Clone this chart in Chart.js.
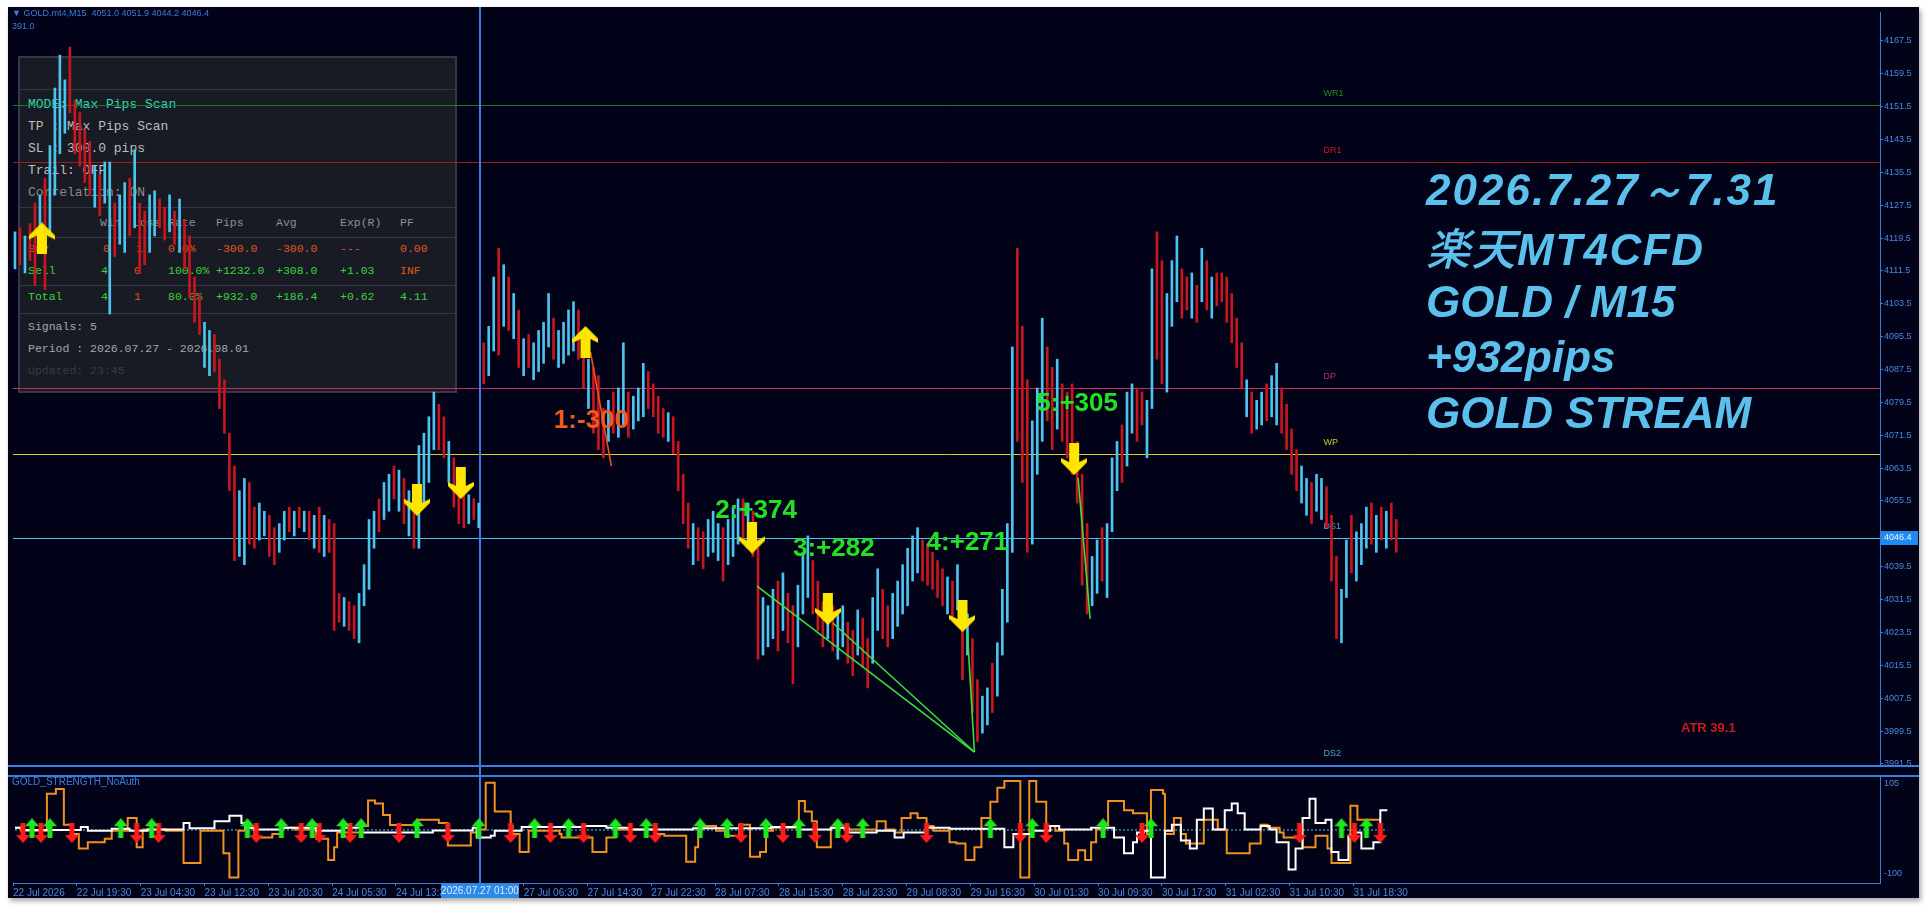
<!DOCTYPE html>
<html>
<head>
<meta charset="utf-8">
<title>GOLD M15</title>
<script src="https://cdn.jsdelivr.net/npm/chart.js@4.4.1/dist/chart.umd.min.js"></script>
<style>
  html, body { margin: 0; padding: 0; background: #ffffff; }
  body { width: 1927px; height: 910px; position: relative; overflow: hidden; }
  #frame { position: absolute; left: 8px; top: 7px; width: 1911px; height: 891px; background: #020318;
           box-shadow: 2px 3px 5px rgba(0,0,0,0.35); overflow: hidden; }
  #main { position: absolute; left: 0; top: 0; z-index: 2; }
  #sub { position: absolute; left: 0; top: 764px; z-index: 2; }
  #panel { position: absolute; left: 10px; top: 49px; width: 435px; height: 333px; background: #191b24;
           border: 2px solid #343844; z-index: 1; }
  #panel .t { position: absolute; font: 13px "Liberation Mono", "DejaVu Sans Mono", monospace; line-height: 16px; white-space: pre; }
  #panel .s { font-size: 11.5px; }
  #panel .sep { position: absolute; left: 0; width: 435px; height: 1px; background: #343844; }
  .g { color: #3cd23c; } .o { color: #e0561c; } .b { font-weight: bold; }
  .hdr { position: absolute; left: 4px; color: #3b7ddc; font: 9px "Liberation Sans", Arial, sans-serif; line-height: 12px; z-index: 3; white-space: pre; }
  .title { position: absolute; left: 1418px; color: #5bc0eb; font: italic bold 44px "Liberation Sans", Arial, sans-serif;
           line-height: 44px; white-space: pre; z-index: 3; }
  .title .jp { font-family: "Noto Sans CJK JP", sans-serif; font-weight: 500; }
  #atr { position: absolute; left: 1673px; top: 713px; color: #cc1a1a; font: bold 13px "Liberation Sans", Arial, sans-serif; z-index: 3; }
</style>
</head>
<body>
<div id="frame">
  <div class="hdr" style="top:0px">▼ GOLD.mt4,M15  4051.0 4051.9 4044.2 4046.4</div>
  <div class="hdr" style="top:13px">391.0</div>

  <div id="panel">
    <div class="sep" style="top:31px"></div>
    <div class="t" style="left:8px;top:39px;color:#2fd6bd">MODE: Max Pips Scan</div>
    <div class="t" style="left:8px;top:61px;color:#bdbdbd">TP : Max Pips Scan</div>
    <div class="t" style="left:8px;top:83px;color:#bdbdbd">SL : 300.0 pips</div>
    <div class="t" style="left:8px;top:105px;color:#bdbdbd">Trail: OFF</div>
    <div class="t" style="left:8px;top:127px;color:#8a8a8a">Correlation: ON</div>
    <div class="sep" style="top:149px"></div>
    <div class="t s" style="left:80px;top:157px;color:#8e8e8e">Win</div>
    <div class="t s" style="left:113px;top:157px;color:#8e8e8e">Loss</div>
    <div class="t s" style="left:148px;top:157px;color:#8e8e8e">Rate</div>
    <div class="t s" style="left:196px;top:157px;color:#8e8e8e">Pips</div>
    <div class="t s" style="left:256px;top:157px;color:#8e8e8e">Avg</div>
    <div class="t s" style="left:320px;top:157px;color:#8e8e8e">Exp(R)</div>
    <div class="t s" style="left:380px;top:157px;color:#8e8e8e">PF</div>
    <div class="sep" style="top:179px"></div>
    <div class="t s o b" style="left:8px;top:183px">Buy</div>
    <div class="t s o" style="left:83px;top:183px">0</div>
    <div class="t s o" style="left:116px;top:183px">1</div>
    <div class="t s o" style="left:148px;top:183px">0.0%</div>
    <div class="t s o" style="left:196px;top:183px">-300.0</div>
    <div class="t s o" style="left:256px;top:183px">-300.0</div>
    <div class="t s o" style="left:320px;top:183px">---</div>
    <div class="t s o" style="left:380px;top:183px">0.00</div>
    <div class="t s g b" style="left:8px;top:205px">Sell</div>
    <div class="t s g" style="left:81px;top:205px">4</div>
    <div class="t s o" style="left:114px;top:205px">0</div>
    <div class="t s g" style="left:148px;top:205px">100.0%</div>
    <div class="t s g" style="left:196px;top:205px">+1232.0</div>
    <div class="t s g" style="left:256px;top:205px">+308.0</div>
    <div class="t s g" style="left:320px;top:205px">+1.03</div>
    <div class="t s o" style="left:380px;top:205px">INF</div>
    <div class="sep" style="top:227px"></div>
    <div class="t s g b" style="left:8px;top:231px">Total</div>
    <div class="t s g" style="left:81px;top:231px">4</div>
    <div class="t s o" style="left:114px;top:231px">1</div>
    <div class="t s g" style="left:148px;top:231px">80.0%</div>
    <div class="t s g" style="left:196px;top:231px">+932.0</div>
    <div class="t s g" style="left:256px;top:231px">+186.4</div>
    <div class="t s g" style="left:320px;top:231px">+0.62</div>
    <div class="t s g" style="left:380px;top:231px">4.11</div>
    <div class="sep" style="top:255px"></div>
    <div class="t s" style="left:8px;top:261px;color:#a6a6a6">Signals: 5</div>
    <div class="t s" style="left:8px;top:283px;color:#a6a6a6">Period : 2026.07.27 - 2026.08.01</div>
    <div class="t s" style="left:8px;top:305px;color:#363a44">Updated: 23:45</div>
  </div>

  <canvas id="main" width="1911" height="764"></canvas>
  <canvas id="sub" width="1911" height="127"></canvas>

  <div class="hdr" style="top:769px;font-size:10px">GOLD_STRENGTH_NoAuth</div>

  <div class="title" style="top:161px;letter-spacing:2px">2026.7.27～7.31</div>
  <div class="title" style="top:217px;letter-spacing:1.5px"><span class="jp">楽天</span>MT4CFD</div>
  <div class="title" style="top:273px">GOLD / M15</div>
  <div class="title" style="top:328px">+932pips</div>
  <div class="title" style="top:384px">GOLD STREAM</div>
  <div id="atr">ATR 39.1</div>
</div>

<script>
// ---- price bars (one slot = one drawn bar) ----
const barLow = [
  4112,4113,4111,4114,4108,4116,4107,4120,4130,4140,
  4145,4150,4140,4137,4133,4130,4127,4125,4128,4101,
  4115,4118,4116,4120,4122,4111,4113,4116,4120,4122,
  4119,4121,4118,4116,4112,4105,4099,4096,4088,4086,
  4087,4078,4072,4058,4041,4042,4040,4045,4044,4046,
  4047,4042,4040,4043,4046,4048,4047,4049,4048,4046,
  4044,4043,4042,4043,4024,4026,4025,4024,4022,4021,
  4030,4034,4044,4048,4051,4053,4056,4053,4050,4047,
  4044,4044,4055,4060,4068,4068,4066,4060,4054,4050,
  4049,4050,4051,4049,4084,4086,4092,4091,4098,4097,
  4095,4088,4086,4088,4085,4087,4089,4093,4090,4088,
  4089,4091,4092,4090,4083,4078,4072,4068,4066,4070,
  4072,4071,4074,4071,4073,4075,4076,4078,4076,4072,
  4071,4070,4067,4058,4050,4044,4040,4041,4039,4042,
  4043,4041,4036,4040,4042,4045,4046,4044,4042,4017,
  4018,4020,4022,4019,4024,4021,4011,4020,4028,4032,
  4028,4024,4020,4022,4019,4017,4020,4016,4013,4018,
  4015,4010,4016,4024,4022,4020,4022,4025,4028,4030,
  4036,4038,4036,4035,4034,4032,4030,4028,4027,4029,
  4012,4018,4004,3997,3999,4001,4004,4008,4018,4026,
  4043,4070,4060,4043,4045,4062,4070,4075,4068,4073,
  4070,4066,4062,4055,4035,4028,4030,4033,4036,4032,
  4048,4058,4060,4064,4072,4070,4074,4066,4078,4090,
  4084,4082,4098,4104,4100,4102,4100,4099,4104,4102,
  4100,4103,4104,4099,4094,4088,4083,4076,4072,4073,
  4074,4075,4076,4074,4072,4068,4062,4058,4055,4052,
  4050,4053,4051,4049,4036,4022,4021,4032,4038,4036,
  4040,4044,4045,4043,4046,4044,4046,4043
];
const barHigh = [
  4121,4122,4120,4123,4128,4130,4134,4142,4156,4164,
  4158,4166,4153,4150,4146,4143,4137,4135,4138,4138,
  4128,4130,4133,4134,4141,4128,4126,4130,4131,4129,
  4127,4130,4126,4129,4124,4120,4110,4106,4099,4097,
  4096,4090,4085,4072,4064,4058,4061,4060,4054,4055,
  4053,4052,4049,4050,4053,4054,4053,4054,4053,4053,
  4052,4054,4052,4051,4050,4033,4032,4031,4030,4033,
  4040,4051,4053,4056,4060,4062,4064,4063,4061,4058,
  4056,4069,4072,4076,4082,4079,4076,4070,4066,4060,
  4058,4057,4056,4055,4094,4098,4110,4117,4113,4110,
  4106,4102,4095,4096,4094,4097,4099,4106,4100,4097,
  4099,4102,4104,4102,4094,4090,4088,4086,4078,4080,
  4082,4083,4094,4082,4081,4083,4089,4087,4084,4081,
  4078,4077,4076,4070,4062,4055,4050,4049,4048,4051,
  4053,4050,4049,4051,4054,4056,4056,4055,4053,4044,
  4032,4030,4034,4036,4038,4033,4030,4035,4043,4047,
  4041,4036,4031,4033,4030,4028,4030,4026,4024,4029,
  4027,4022,4032,4039,4034,4030,4033,4036,4040,4044,
  4047,4049,4046,4045,4043,4041,4039,4037,4036,4040,
  4030,4028,4022,4012,4008,4010,4016,4021,4034,4050,
  4093,4117,4098,4085,4075,4083,4100,4093,4088,4090,
  4084,4082,4084,4070,4062,4050,4042,4046,4049,4050,
  4066,4070,4074,4082,4084,4083,4082,4080,4112,4121,
  4114,4106,4114,4120,4112,4110,4111,4108,4117,4114,
  4110,4111,4111,4110,4106,4100,4094,4085,4082,4080,
  4082,4084,4086,4089,4083,4079,4073,4068,4064,4061,
  4060,4062,4061,4059,4052,4042,4034,4046,4052,4048,
  4050,4054,4055,4052,4054,4053,4055,4051
];
const barUp = [
  1,0,1,0,0,1,0,1,1,1,  1,0,0,0,0,0,1,0,1,1,  0,1,1,0,1,0,0,1,1,0,  0,1,0,1,0,0,0,0,1,1,
  0,0,0,0,0,1,1,0,0,1,  1,0,0,1,1,0,1,0,1,0,  1,0,1,0,0,0,1,0,0,1,  1,1,1,0,1,1,0,1,0,1,
  0,1,1,1,1,0,0,1,0,0,  0,1,0,1,0,1,1,0,1,0,  1,0,1,0,1,1,1,1,0,1,  1,1,1,0,0,1,0,0,0,1,
  0,1,1,0,1,1,1,0,0,0,  0,1,0,0,0,0,1,0,0,1,  1,1,0,1,1,1,0,1,0,0,  1,1,1,0,1,0,0,1,1,1,
  0,0,0,1,0,1,1,0,0,1,  0,0,1,1,0,0,1,1,1,1,  1,1,0,0,0,0,0,1,0,1,  0,1,0,0,1,1,0,1,1,1,
  1,0,0,0,1,1,1,0,0,1,  0,0,0,0,0,0,1,1,0,1,  1,1,0,1,1,0,0,1,1,0,  0,1,1,1,0,0,1,0,1,0,
  1,0,0,0,0,0,0,1,0,1,  1,0,1,1,0,0,0,0,1,1,  0,1,1,0,0,0,1,1,0,1,  1,1,0,1,0,1,0,0
];
const lastPrice = 4046.4;

// ---- horizontal levels ----
const levelNames = ['WR1', 'DR1', 'DP', 'WP', 'DS1', 'DS2'];
const levelPrices = [4151.8, 4138.0, 4083.1, 4066.9, 4046.4, 3991.2];

// ---- signal arrows on the price chart ----
const buyArrowX = [5.4, 114.4];
const buyArrowY = [4119.4, 4094.2];
const sellArrowX = [80.6, 89.4, 147.8, 163, 190, 212.4];
const sellArrowY = [4055.8, 4059.9, 4046.6, 4029.2, 4027.5, 4065.7];

// ---- trades: entry -> exit, and result labels ----
const tradeFromX = [115.4, 148.8, 164, 191, 213.2];
const tradeFromY = [4091.8, 4034.8, 4025.8, 4023.4, 4061.1];
const tradeToX = [119.6, 192.4, 192.4, 192.4, 215.6];
const tradeToY = [4064.0, 3994.4, 3994.4, 3994.4, 4026.8];
const tradeLabels = ['1:-300', '2:+374', '3:+282', '4:+271', '5:+305'];
const tradeLabelX = [115.6, 148.6, 164.2, 191, 213];
const tradeLabelY = [4074.9, 4053.1, 4043.9, 4045.2, 4079.2];

// ---- axes ----
const priceTicks = [4167.5, 4159.5, 4151.5, 4143.5, 4135.5, 4127.5, 4119.5, 4111.5, 4103.5, 4095.5,
  4087.5, 4079.5, 4071.5, 4063.5, 4055.5, 4039.5, 4031.5, 4023.5, 4015.5, 4007.5, 3999.5, 3991.5];
const timeTickSlots = [-0.4, 12.4, 25.2, 38, 50.8, 63.6, 76.4, 89.2, 102, 114.8, 127.6,
  140.4, 153.2, 166, 178.8, 191.6, 204.4, 217.2, 230, 242.8, 255.6, 268.4];
const timeLabels = ['22 Jul 2026', '22 Jul 19:30', '23 Jul 04:30', '23 Jul 12:30', '23 Jul 20:30',
  '24 Jul 05:30', '24 Jul 13:30', '24 Jul 21:30', '27 Jul 06:30', '27 Jul 14:30', '27 Jul 22:30',
  '28 Jul 07:30', '28 Jul 15:30', '28 Jul 23:30', '29 Jul 08:30', '29 Jul 16:30', '30 Jul 01:30',
  '30 Jul 09:30', '30 Jul 17:30', '31 Jul 02:30', '31 Jul 10:30', '31 Jul 18:30'];
const weekStartSlot = 93.2;
const weekStartLabel = '2026.07.27 01:00';

// ---- GOLD_STRENGTH indicator: [slot, value] at each step change ----
const orangeSteps = [
  [0,5],[1.2,-2],[6.4,82],[8.2,93],[9.8,12],[11.4,-9],[12.8,-42],[14.6,-28],[18,-20],[19.4,-2],
  [22.6,27],[24.4,-39],[25.6,1],[30.2,-2],[33.8,-75],[37.2,-2],[41.8,-53],[43,-108],[44.8,-2],[46.2,5],
  [48,-17],[51.6,-9],[53.4,5],[56,1],[60.4,-20],[62.8,-68],[64,-39],[64.6,-6],[69.4,9],[70.8,67],
  [72.2,60],[73.8,34],[75.2,11],[80.6,23],[85,16],[86.8,-35],[91.4,-6],[92.6,1],[94.4,107],[96.2,42],
  [99.4,9],[99.8,-9],[101.2,-50],[103,-2],[109.2,-9],[109.6,-17],[115.8,-50],[118.6,-17],[120.4,1],[128.4,-9],
  [130.2,-13],[134.6,-72],[136.4,-39],[137,1],[137.8,9],[140.6,-2],[142.4,-13],[145.2,12],[147.4,-61],[149.4,-50],
  [150.6,-2],[152,5],[157.2,66],[158.4,42],[159.8,20],[160.8,-39],[163.6,5],[166.4,1],[172.8,20],[174.6,1],
  [176.4,-6],[177.8,27],[179.6,38],[181,27],[182.8,9],[184.2,-2],[187.4,-28],[188.8,-31],[190.6,-68],[192.4,-39],
  [193.8,27],[195.6,64],[197,96],[198.4,111],[201.6,-108],[203.4,111],[204.8,64],[206.8,9],[208.6,-2],[210.4,-31],
  [211.2,-68],[213.2,-46],[214.6,-68],[215.8,-28],[216.8,1],[218.6,12],[219.2,66],[222.4,45],[224.2,38],[227,-9],
  [227.8,91],[230.2,82],[230.6,-9],[232.4,27],[233.8,-9],[234.8,-31],[238.4,23],[241.2,1],[243,-53],[247.6,-31],
  [249.8,12],[251.2,5],[253.6,-6],[254.4,-17],[258.2,-39],[260.8,-13],[263.2,-42],[264,-75],[267.8,55],[269.2,23],
  [273.8,23]
];
const whiteSteps = [
  [0,5],[1.6,0],[13.2,7],[14.6,-2],[19.4,3],[23,-2],[26.6,1],[33.8,16],[35,4],[40,20],
  [43,32],[45.4,16],[46.2,5],[48,1],[53.4,5],[60.4,-2],[65.8,5],[69.4,-6],[83.8,-1],[91.8,5],
  [92.6,-17],[95.4,-13],[96.2,-2],[101.6,7],[114,9],[118.6,5],[123,1],[136,4],[151.6,7],[157.2,1],
  [163.6,5],[167.2,-6],[172.8,-2],[176.4,-17],[178.2,-6],[182.8,5],[187.4,3],[198.4,-39],[200.2,-9],[204,-2],
  [207.6,9],[209.4,1],[215.8,5],[220.4,-17],[222.4,-53],[224.2,-28],[225,-6],[226.4,-2],[227.8,-108],[230.6,-2],
  [232,12],[233.8,-24],[235.6,-42],[237,23],[238.4,49],[240.2,1],[242.6,45],[244,60],[245.2,38],[246.6,1],
  [249.8,9],[251.6,1],[253,-28],[255.4,-90],[256.8,-42],[258.2,27],[259.6,71],[260.8,16],[262.8,23],[264,-50],
  [265.4,-68],[267.4,-13],[268.6,-6],[270,-42],[272.4,-28],[273.8,45],[275.2,45]
];
const strengthUpX = [3.4, 7, 21.2, 27.4, 46.6, 53.4, 59.6, 65.8, 69.4, 80.6, 93, 104.2, 111, 120.4,
  126.6, 137.4, 142.8, 150.6, 157.2, 165, 170, 195.6, 204, 218.2, 227.8, 266, 271];
const strengthDownX = [1.6, 5.2, 11.4, 24.4, 28.8, 48.4, 57.4, 61, 67.2, 77, 86.8, 99.4, 107.4, 114,
  123.4, 128.4, 145.6, 154, 160.4, 166.8, 182.8, 201.6, 206.8, 226, 257.6, 268.6, 273.8];
const strengthUpLevel = 4;
const strengthDownLevel = -7;
const strengthTicks = [105, -100];

// ---- styling ----
const BG_AXIS = '#3b7ddc';
const AXIS_TEXT = '#4a88e0';
const UP_COLOR = '#4cc4ee';
const DOWN_COLOR = '#c8161e';
const levelColors = ['#1d7a1d', '#a81a1a', '#d02a64', '#d8d028', '#4ab8e0', '#4ab8e0'];
const levelTextColors = ['#1f8f1f', '#c81e1e', '#c8286a', '#c8c81e', '#48a8d0', '#48a8d0'];
const LEVEL_TAG_SLOT = 262.4;
const X_MIN = -0.4, X_MAX = 374;

Chart.defaults.font.family = '"Liberation Sans", Arial, sans-serif';
Chart.defaults.animation = false;

function make_arrow(w, h, color, down, headH, shaftW, notch){
    // draws a filled arrow onto a small canvas to use as point style
    const c = document.createElement('canvas');
    c.width = w;
    c.height = h;
    const g = c.getContext('2d');
    if (down){
        g.translate(0, h);
        g.scale(1, -1);
    }
    const m = w / 2;
    g.fillStyle = color;
    g.beginPath();
    g.moveTo(m, 0);
    g.lineTo(w, headH);
    g.lineTo(w, headH + notch);
    g.lineTo(m + shaftW / 2, headH);
    g.lineTo(m + shaftW / 2, h);
    g.lineTo(m - shaftW / 2, h);
    g.lineTo(m - shaftW / 2, headH);
    g.lineTo(0, headH + notch);
    g.lineTo(0, headH);
    g.closePath();
    g.fill();
    return c;
}

const yellowUp = make_arrow(26, 32, '#ffe600', false, 13, 10, 4);
const yellowDown = make_arrow(26, 32, '#ffe600', true, 13, 10, 4);
const greenUp = make_arrow(14, 20, '#1ee81e', false, 8, 5, 0);
const redDown = make_arrow(14, 20, '#ff1a1a', true, 8, 5, 0);

function points(xs, ys){
    return xs.map((v, i) => ({x: v, y: ys[i]}));
}

function steps_to_points(steps){
    return steps.map(s => ({x: s[0], y: s[1]}));
}

// keep axes from reserving room for half-labels at the ends
function fix_y_axis(s){
    s.width = 39;
    s.paddingTop = 0;
    s.paddingBottom = 0;
}

// ---------- main price pane ----------
const barData = barLow.map((lo, i) => ({x: i, y: [lo, barHigh[i]]}));
const barColors = barUp.map(u => u ? UP_COLOR : DOWN_COLOR);

const tradeSets = tradeFromX.map((x0, i) => ({
    type: 'line',
    data: [{x: x0, y: tradeFromY[i]}, {x: tradeToX[i], y: tradeToY[i]}],
    borderColor: tradeLabels[i].indexOf('-') > 0 ? '#e8521e' : '#38e038',
    borderWidth: 1.6,
    pointRadius: 0,
    fill: false
}));

const mainOverlay = {
    id: 'mainOverlay',
    beforeDatasetsDraw(chart){
        const {ctx, chartArea: area, scales: {x, y}} = chart;
        ctx.save();
        ctx.font = '9px "Liberation Sans", Arial, sans-serif';
        ctx.textBaseline = 'middle';
        ctx.textAlign = 'left';
        for (let i = 0; i < levelNames.length; i++){
            const py = Math.round(y.getPixelForValue(levelPrices[i])) + 0.5;
            ctx.strokeStyle = levelColors[i];
            ctx.lineWidth = 1;
            ctx.beginPath();
            ctx.moveTo(area.left, py);
            ctx.lineTo(area.right, py);
            ctx.stroke();
            ctx.fillStyle = levelTextColors[i];
            ctx.fillText(levelNames[i], x.getPixelForValue(LEVEL_TAG_SLOT), py - 12);
        }
        // bid line
        const by = Math.round(y.getPixelForValue(lastPrice)) + 0.5;
        ctx.strokeStyle = '#4fc3ec';
        ctx.beginPath();
        ctx.moveTo(area.left, by);
        ctx.lineTo(area.right, by);
        ctx.stroke();
        // start of week separator
        const sx = Math.round(x.getPixelForValue(weekStartSlot));
        ctx.strokeStyle = BG_AXIS;
        ctx.lineWidth = 2;
        ctx.beginPath();
        ctx.moveTo(sx, 0);
        ctx.lineTo(sx, chart.height);
        ctx.stroke();
        ctx.restore();
    },
    afterDatasetsDraw(chart){
        const {ctx, scales: {x, y}} = chart;
        ctx.save();
        ctx.font = 'bold 26px "Liberation Sans", Arial, sans-serif';
        ctx.textAlign = 'center';
        ctx.textBaseline = 'middle';
        tradeLabels.forEach((t, i) => {
            ctx.fillStyle = t.indexOf('-') > 0 ? '#f05a1e' : '#22e022';
            ctx.fillText(t, x.getPixelForValue(tradeLabelX[i]), y.getPixelForValue(tradeLabelY[i]));
        });
        ctx.restore();
    },
    afterDraw(chart){
        const {ctx, chartArea: area, scales: {y}} = chart;
        ctx.save();
        // pane separator
        ctx.fillStyle = BG_AXIS;
        ctx.fillRect(0, area.bottom - 1, chart.width, 2);
        // price tag
        const by = Math.round(y.getPixelForValue(lastPrice));
        ctx.fillStyle = '#1f8bf0';
        ctx.fillRect(area.right + 1, by - 7, 37, 14);
        ctx.fillStyle = '#e8f4ff';
        ctx.font = '9px "Liberation Sans", Arial, sans-serif';
        ctx.textBaseline = 'middle';
        ctx.textAlign = 'left';
        ctx.fillText(lastPrice.toFixed(1), area.right + 4, by);
        ctx.restore();
    }
};

new Chart(document.getElementById('main').getContext('2d'), {
    type: 'bar',
    data: {
        datasets: [
            {type: 'scatter', data: points(buyArrowX, buyArrowY), pointStyle: yellowUp, pointRadius: 3},
            {type: 'scatter', data: points(sellArrowX, sellArrowY), pointStyle: yellowDown, pointRadius: 3},
            ...tradeSets,
            {
                type: 'bar',
                data: barData,
                backgroundColor: barColors,
                borderWidth: 0,
                barThickness: 2,
                grouped: false
            }
        ]
    },
    options: {
        responsive: false,
        animation: false,
        layout: {padding: {top: 2, bottom: 3, left: 0, right: 0}},
        plugins: {legend: {display: false}, tooltip: {enabled: false}},
        scales: {
            x: {
                type: 'linear',
                display: false,
                min: X_MIN,
                max: X_MAX,
                offset: false,
                grid: {offset: false}
            },
            y: {
                position: 'right',
                min: 3991.0,
                max: 4174.51,
                beginAtZero: false,
                afterBuildTicks: s => { s.ticks = priceTicks.map(v => ({value: v})); },
                afterFit: fix_y_axis,
                border: {display: true, color: BG_AXIS, width: 1},
                grid: {drawOnChartArea: false, drawTicks: true, tickLength: 3, color: BG_AXIS},
                ticks: {
                    autoSkip: false,
                    padding: 1,
                    color: AXIS_TEXT,
                    font: {size: 9},
                    callback: v => Number(v).toFixed(1)
                }
            }
        }
    },
    plugins: [mainOverlay]
});

// ---------- GOLD_STRENGTH pane ----------
const subOverlay = {
    id: 'subOverlay',
    beforeDatasetsDraw(chart){
        const {ctx, chartArea: area, scales: {x}} = chart;
        ctx.save();
        const sx = Math.round(x.getPixelForValue(weekStartSlot));
        ctx.strokeStyle = BG_AXIS;
        ctx.lineWidth = 2;
        ctx.beginPath();
        ctx.moveTo(sx, 0);
        ctx.lineTo(sx, area.bottom);
        ctx.stroke();
        ctx.restore();
    },
    afterDraw(chart){
        const {ctx, chartArea: area, scales: {x}} = chart;
        ctx.save();
        ctx.fillStyle = BG_AXIS;
        ctx.fillRect(0, area.top - 1, chart.width, 2);
        // highlighted time of the week start
        const sx = Math.round(x.getPixelForValue(weekStartSlot));
        ctx.fillStyle = '#2a8ae8';
        ctx.fillRect(sx - 39, area.bottom + 1, 78, chart.height - area.bottom - 1);
        ctx.fillStyle = '#dfe9ff';
        ctx.font = '10px "Liberation Sans", Arial, sans-serif';
        ctx.textAlign = 'center';
        ctx.textBaseline = 'middle';
        ctx.fillText(weekStartLabel, sx, area.bottom + 8);
        ctx.restore();
    }
};

const zeroLine = [
    {x: whiteSteps[0][0], y: 0},
    {x: whiteSteps[whiteSteps.length - 1][0], y: 0}
];

new Chart(document.getElementById('sub').getContext('2d'), {
    type: 'line',
    data: {
        datasets: [
            {type: 'scatter', data: strengthUpX.map(v => ({x: v, y: strengthUpLevel})), pointStyle: greenUp, pointRadius: 3},
            {type: 'scatter', data: strengthDownX.map(v => ({x: v, y: strengthDownLevel})), pointStyle: redDown, pointRadius: 3},
            {data: steps_to_points(whiteSteps), stepped: true, borderColor: '#ffffff', borderWidth: 2, pointRadius: 0, fill: false},
            {data: steps_to_points(orangeSteps), stepped: true, borderColor: '#f0901e', borderWidth: 2, pointRadius: 0, fill: false},
            {data: zeroLine, borderColor: '#5ad0f0', borderWidth: 1, borderDash: [2, 2], pointRadius: 0, fill: false}
        ]
    },
    options: {
        responsive: false,
        animation: false,
        layout: {padding: {top: 1, bottom: 0, left: 0, right: 0}},
        plugins: {legend: {display: false}, tooltip: {enabled: false}},
        scales: {
            x: {
                type: 'linear',
                min: X_MIN,
                max: X_MAX,
                afterBuildTicks: s => { s.ticks = timeTickSlots.map(v => ({value: v})); },
                afterFit: s => { s.height = 15; s.paddingLeft = 0; s.paddingRight = 0; },
                border: {display: true, color: BG_AXIS, width: 1},
                grid: {drawOnChartArea: false, drawTicks: true, tickLength: 3, color: BG_AXIS},
                ticks: {
                    autoSkip: false,
                    maxRotation: 0,
                    align: 'start',
                    padding: 1,
                    color: AXIS_TEXT,
                    font: {size: 10},
                    callback: (v, i) => timeLabels[i]
                }
            },
            y: {
                position: 'right',
                min: -120.4,
                max: 122.5,
                afterBuildTicks: s => { s.ticks = strengthTicks.map(v => ({value: v})); },
                afterFit: fix_y_axis,
                border: {display: true, color: BG_AXIS, width: 1},
                grid: {drawOnChartArea: false, drawTicks: false},
                ticks: {
                    autoSkip: false,
                    padding: 4,
                    color: AXIS_TEXT,
                    font: {size: 9},
                    callback: v => String(v)
                }
            }
        }
    },
    plugins: [subOverlay]
});
</script>
</body>
</html>
